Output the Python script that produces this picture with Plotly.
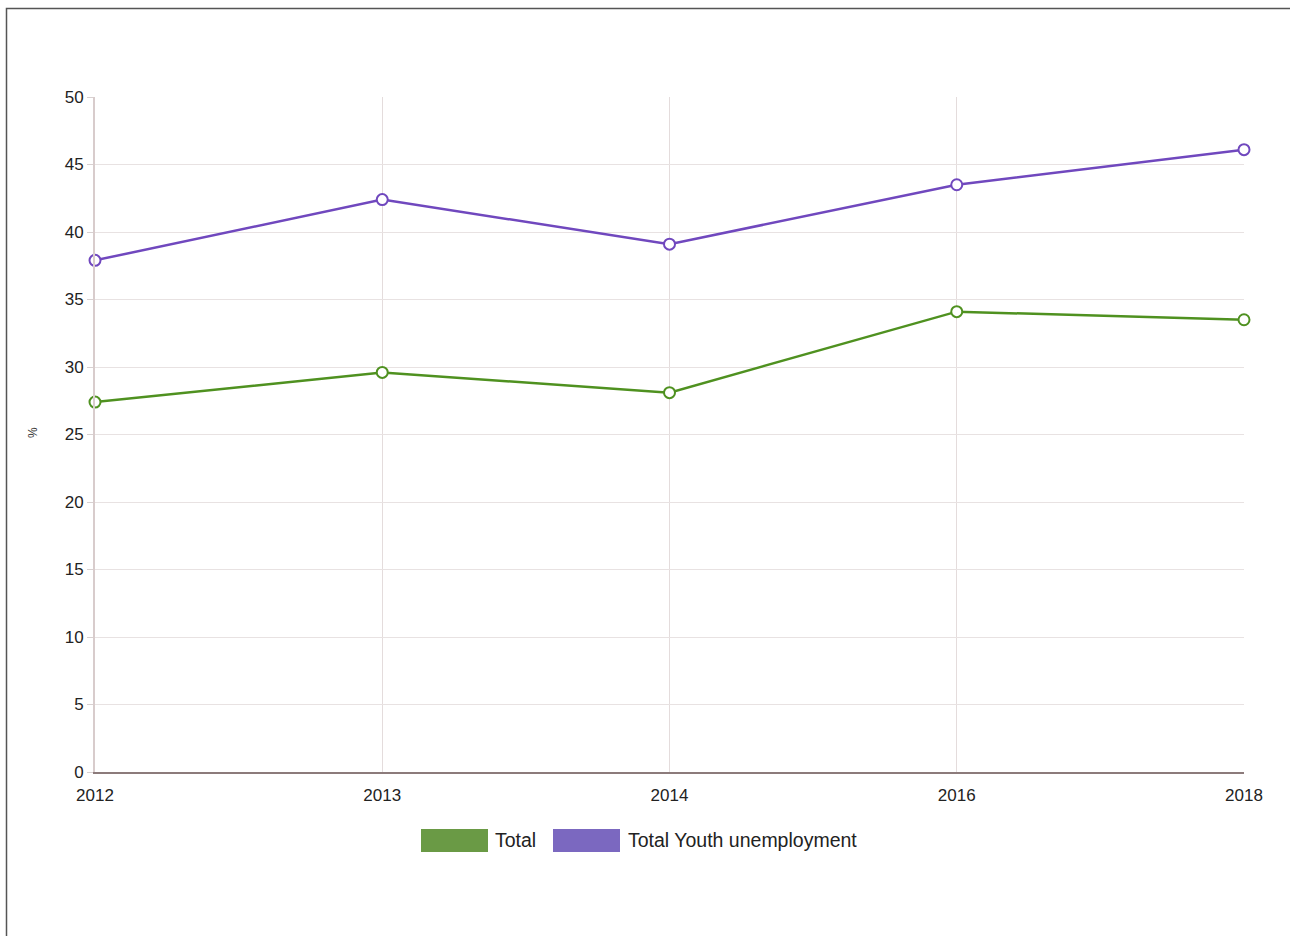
import plotly.graph_objects as go

years = ["2012", "2013", "2014", "2016", "2018"]
total = [27.4, 29.6, 28.1, 34.1, 33.5]
youth = [37.9, 42.4, 39.1, 43.5, 46.1]
series_names = ["Total", "Total Youth unemployment"]
line_colors = ["#4f9120", "#7048be"]
swatch_colors = ["#6a9a45", "#7b68c0"]
y_ticks = list(range(0, 51, 5))

fig = go.Figure()
for name, vals, col in zip(series_names, [total, youth], line_colors):
    fig.add_trace(go.Scatter(
        x=years, y=vals, name=name, mode="lines+markers",
        line=dict(color=col, width=2.5),
        marker=dict(symbol="circle", size=11, color="white",
                    line=dict(color=col, width=2)),
        cliponaxis=False, showlegend=False,
    ))

L, R, T, B = 95, 46, 97, 164
W, H = 1290, 936
pw, ph = W - L - R, H - T - B

def px(x):
    return (x - L) / pw

def py(y):
    return (H - B - y) / ph

shapes = [
    dict(type="rect", xref="paper", yref="paper",
         x0=px(6.5), x1=px(1400), y0=py(1000), y1=py(8.5),
         line=dict(color="#555555", width=1.5), fillcolor="rgba(0,0,0,0)", layer="below"),
]
annotations = []
# legend
sw = [(421, 488, 493), (553, 620, 626)]
for (x0, x1, tx), name, col in zip(sw, series_names, swatch_colors):
    shapes.append(dict(type="rect", xref="paper", yref="paper",
                       x0=px(x0), x1=px(x1), y0=py(852), y1=py(829),
                       line=dict(width=0), fillcolor=col))
    annotations.append(dict(xref="paper", yref="paper", x=px(tx), y=py(840),
                            xanchor="left", yanchor="middle", text=name,
                            showarrow=False, font=dict(size=19.5, color="#222222")))
annotations.append(dict(xref="paper", yref="paper", x=px(33), y=py(433),
                        text="%", textangle=-90, showarrow=False,
                        xanchor="center", yanchor="middle",
                        font=dict(size=12, color="#333333")))

fig.update_layout(
    width=W, height=H,
    margin=dict(l=L, r=R, t=T, b=B),
    paper_bgcolor="white", plot_bgcolor="white",
    font=dict(family="Liberation Sans, Arial, sans-serif", size=17, color="#222222"),
    shapes=shapes, annotations=annotations,
    xaxis=dict(type="category", range=[0, 4], showgrid=True, gridcolor="#e4dcdc",
               gridwidth=1, showline=True, linecolor="#8c7b7b", linewidth=1.5,
               ticks="outside", ticklen=7, tickcolor="rgba(0,0,0,0)",
               tickfont=dict(size=17), zeroline=False),
    yaxis=dict(range=[0, 50], tickvals=y_ticks, showgrid=True, gridcolor="#e8e2e2",
               gridwidth=1, showline=True, linecolor="#d8cccc", linewidth=2,
               ticks="outside", ticklen=6, tickcolor="#d8d0d0",
               tickfont=dict(size=17), zeroline=False),
)

fig.write_html("out.html")
